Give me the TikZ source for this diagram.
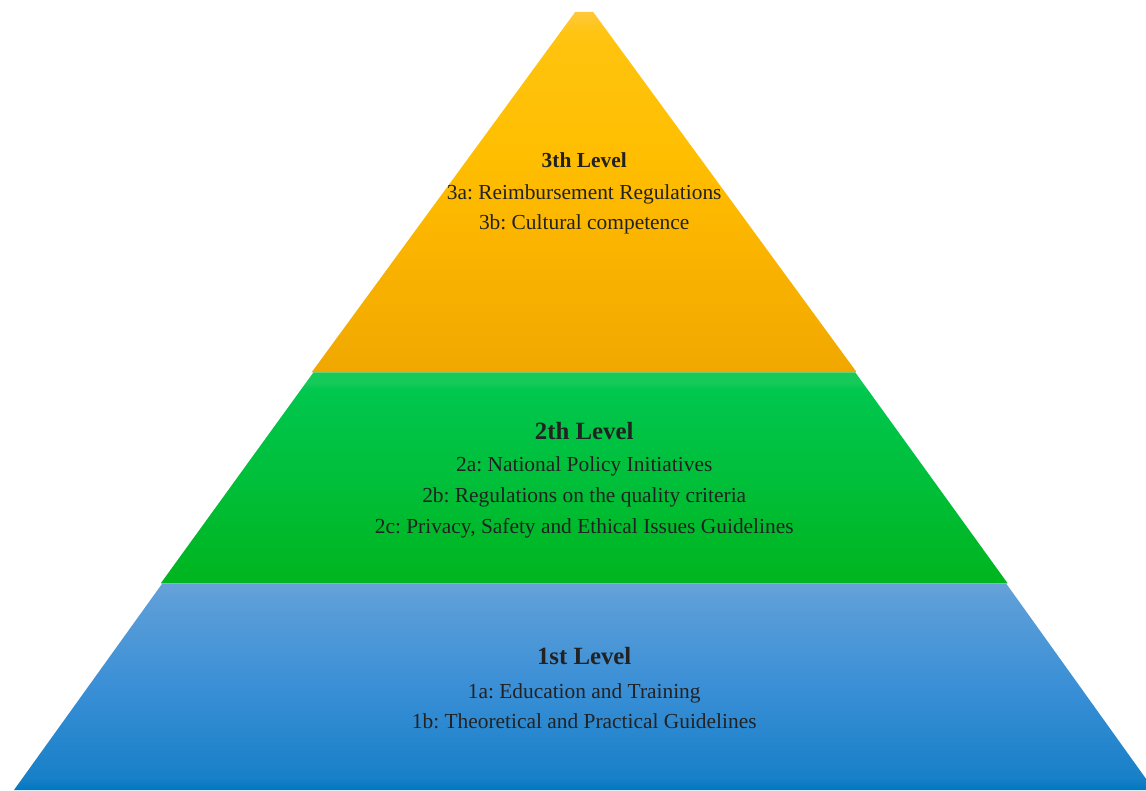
\documentclass[tikz,border=0pt]{standalone}
\usepackage{fontspec}
\setmainfont{Liberation Serif}
\frenchspacing

% tier colours
\definecolor{ylTop}{HTML}{FFC83A}
\definecolor{ylHi}{HTML}{FFC410}
\definecolor{ylMid}{HTML}{FFBE00}
\definecolor{ylLow}{HTML}{FAB200}
\definecolor{ylBot}{HTML}{F0A800}
\definecolor{grTop}{HTML}{16CA5A}
\definecolor{grHi}{HTML}{00C74E}
\definecolor{grMid}{HTML}{00BF3A}
\definecolor{grBot}{HTML}{00B51E}
\definecolor{blTop}{HTML}{66A2D8}
\definecolor{blHi}{HTML}{5A9DD8}
\definecolor{blMid}{HTML}{3A8FD6}
\definecolor{blLow}{HTML}{1880C8}
\definecolor{blBot}{HTML}{0077C0}
\definecolor{ink}{HTML}{222222}

% vertical shadings: 25bp = bottom edge of the tier, 75bp = top edge
\pgfdeclareverticalshading{yellowtier}{100bp}{
  color(0bp)=(ylBot); color(25bp)=(ylBot); color(40bp)=(ylLow);
  color(55bp)=(ylMid); color(72bp)=(ylHi); color(75bp)=(ylTop); color(100bp)=(ylTop)}
\pgfdeclareverticalshading{greentier}{100bp}{
  color(0bp)=(grBot); color(25bp)=(grBot); color(50bp)=(grMid);
  color(71bp)=(grHi); color(72.5bp)=(grTop); color(75bp)=(grTop); color(100bp)=(grTop)}
\pgfdeclareverticalshading{bluetier}{100bp}{
  color(0bp)=(blBot); color(25bp)=(blBot); color(28bp)=(blLow);
  color(50bp)=(blMid); color(70bp)=(blHi); color(75bp)=(blTop); color(100bp)=(blTop)}

\tikzset{
  tier/.style={draw=none},
  title/.style={anchor=base, inner sep=0pt, text=ink, font=\bfseries\fontsize{24.8}{28}\selectfont},
  smalltitle/.style={title, font=\bfseries\fontsize{21.4}{25}\selectfont},
  item/.style={anchor=base, inner sep=0pt, text=ink, font=\fontsize{21.4}{25}\selectfont},
}

\begin{document}
\begin{tikzpicture}[x=1pt,y=1pt]
  \useasboundingbox (0,0) rectangle (1146,790);
  \clip (0,0) rectangle (1146,790);

  % pyramid tiers
  \shade[tier, shading=yellowtier] (575.2,778) -- (593.2,778) -- (856.7,417.7) -- (311.7,417.7) -- cycle;
  \shade[tier, shading=greentier] (313.5,417.7) -- (855.2,417.7) -- (1007.6,206.7) -- (160.8,206.7) -- cycle;
  \shade[tier, shading=bluetier] (162.4,206.7) -- (1006,206.7) -- (1154,0) -- (14,0) -- cycle;

  % top tier
  \node[smalltitle] (t3) at (584.2,622.3) {3th Level};
  \node[item] (i3a) at (584.2,590.7) {3a: Reimbursement Regulations};
  \node[item] (i3b) at (584.2,560) {3b: Cultural competence};

  % middle tier
  \node[title] (t2) at (584.2,350.7) {2th Level};
  \node[item] (i2a) at (584.2,318) {2a: National Policy Initiatives};
  \node[item] (i2b) at (584.2,287.3) {2b: Regulations on the quality criteria};
  \node[item] (i2c) at (584.2,256.7) {2c: Privacy, Safety and Ethical Issues Guidelines};

  % bottom tier
  \node[title] (t1) at (584.2,125) {1st Level};
  \node[item] (i1a) at (584.2,91.7) {1a: Education and Training};
  \node[item] (i1b) at (584.2,61.7) {1b: Theoretical and Practical Guidelines};
\end{tikzpicture}
\end{document}
